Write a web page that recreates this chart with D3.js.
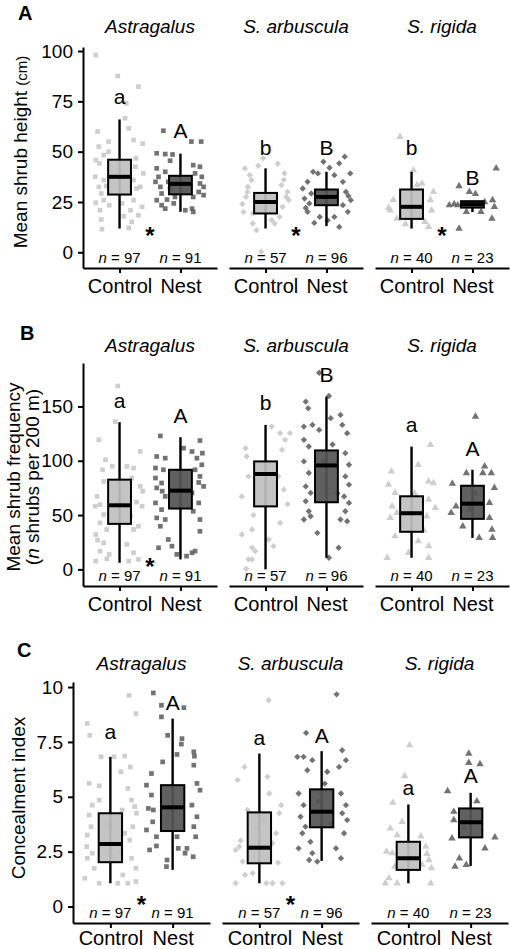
<!DOCTYPE html>
<html><head><meta charset="utf-8">
<script src="https://cdn.jsdelivr.net/npm/d3@7"></script>
<style>body{margin:0;background:#fff} text{font-family:"Liberation Sans",Arial,sans-serif;fill:#000}</style>
</head><body><svg id="c" width="510" height="949"></svg>
<script>
// ---------- DATA ----------
const species = ["Astragalus", "S. arbuscula", "S. rigida"];
const treatments = ["Control", "Nest"];
const sampleSizes = [[97, 91], [57, 96], [40, 23]];

const heightTicks = [0, 25, 50, 75, 100];
const freqTicks = [0, 50, 100, 150];
const concealTicks = [0, 2.5, 5, 7.5, 10];
const concealTickLabels = ["0", "2.5", "5", "7.5", "10"];

// box stats: [lower whisker, q1, median, q3, upper whisker], order: Ast C, Ast N, Sa C, Sa N, Sr C, Sr N
const heightBoxes = [[11.8,28.7,37.5,46,66],[20.1,28.8,34,38,49],[11.8,19.3,25,29.5,41.7],[13,23.4,27.5,31.2,40],[11.8,16.6,22.6,31.2,40],[20,22.2,23.9,25.4,25.4]];
const freqBoxes = [[6.1,41.9,59,82.6,135.5],[9.2,56,72.5,91.7,121.7],[0,58,87.8,99.4,133],[10.7,61.8,95.7,109.5,159],[10.7,34.6,51.7,67.3,113],[29,46.5,60.5,77,91.7]];
const concealBoxes = [[1.06,2.02,2.85,4.25,6.82],[1.67,3.44,4.52,5.53,8.56],[1.06,1.97,2.68,4.29,6.97],[2.08,3.61,4.32,5.34,7.08],[1.06,1.67,2.2,2.95,4.65],[1.85,3.15,3.84,4.47,5.18]];

// significance letters [letter, value at baseline]
const heightLetters = [[["a",73.7],["A",56.6]],[["b",48.3],["B",48.3]],[["b",48.3],["B",33.4]]];
const freqLetters = [[["a",148.3],["A",134.6]],[["b",146.8],["B",172.8]],[["a",126.9],["A",104]]];
const concealLetters = [[["a",7.65],["A",8.97]],[["a",7.35],["A",7.45]],[["a",5.08],["A",5.61]]];

// asterisk (value at centre, or null)
const heightStars = [11, 11, 11];
const freqStars = [7.6, null, null];
const concealStars = [0.3, 0.3, null];

// points: [jitter (category units), value]
const hAstC = [[-0.39,98],[-0.03,87.6],[0.31,82.3],[0.11,74],[-0.36,60],[0.15,61.6],[0.38,54],[-0.18,55],[-0.34,52.5],[0.23,55.8],[-0.26,48.3],[0.27,46.7],[-0.33,44.2],[0.39,39.2],[-0.4,37.5],[0.23,35.9],[-0.34,32.5],[0.28,31.7],[-0.3,29.2],[-0.39,24.6],[-0.26,25.9],[0.23,25.9],[-0.17,23.4],[0.04,24.3],[0.37,22.6],[0.18,20.9],[-0.3,16.3],[0.07,17.9],[-0.29,11.5],[0.2,15.1],[0.15,12.1],[-0.22,32.9],[-0.26,35.9],[0.34,32.5],[-0.39,45.8],[-0.18,49.9],[0.26,42.5],[0.09,66.6],[-0.32,20.9],[0.31,18.4]];
const hAstN = [[-0.28,60.4],[0.18,55],[-0.39,49.2],[-0.25,48.8],[-0.13,48.6],[-0.17,45.5],[0.21,43.3],[0.32,42.5],[-0.39,41.7],[-0.25,40],[-0.36,37.5],[0.35,37.5],[0.24,39.2],[0.32,34.2],[-0.33,32.5],[-0.2,35],[0.3,30],[-0.31,29.2],[-0.39,25.9],[-0.22,26.2],[0.38,28.4],[0.21,27.5],[-0.31,23.4],[-0.11,24.3],[0.19,21.7],[0.08,20.9],[0.21,20.1],[-0.25,21.7],[0.34,55],[-0.41,35],[-0.09,27.5],[-0.17,31.7],[0.38,32.5]];
const hSaC = [[-0.34,41.7],[-0.26,38.3],[-0.32,27.5],[-0.21,19.3],[-0.15,11],[-0.29,32.5],[-0.04,46.7],[0.31,39.2],[0.26,33.4],[0.34,27.5],[0.28,22.6],[0.23,17.6],[0.15,14.3],[-0.21,14.3],[-0.07,0.3],[-0.23,35.9],[-0.38,24],[0.36,30],[-0.12,43],[0.2,44],[-0.36,20],[0.1,16],[0.38,26],[-0.3,30],[0.3,36]];
const hSaN = [[0.3,47.5],[-0.14,39.2],[-0.31,35],[-0.39,31.7],[-0.36,26.7],[-0.28,24.3],[-0.31,20.1],[-0.11,17.6],[-0.2,14.6],[0.21,12.6],[0.35,20.1],[0.4,25.9],[0.32,30],[0.27,35],[0.39,39.2],[0.13,38.3],[0.21,44.2],[0.02,15.9],[-0.25,29.2],[0.13,17.6],[0.27,23.4],[-0.05,45],[0.05,42],[-0.22,40],[0.36,28],[-0.34,22]];
const hSrC = [[-0.19,57.4],[0.03,40.8],[0.17,34.2],[0.31,25.9],[0.33,20.9],[-0.35,20.9],[-0.24,16.8],[0.22,15.1],[0.28,12.6],[0.09,33.4],[-0.3,26],[0.36,30],[-0.1,14],[0.12,18],[-0.38,22]];
const hSrN = [[-0.22,32.9],[-0.38,23.4],[-0.24,23.4],[-0.1,20.1],[0.14,20.1],[-0.22,11.8],[0.39,41.7],[0.33,25.9],[0.36,22.6],[0.32,16.8],[0.05,29],[-0.3,24],[0.2,25],[-0.05,30]];

const fAstC = [[-0.03,168.8],[-0.07,136],[-0.34,119.3],[0.34,108.5],[-0.23,100.9],[0.23,93.3],[-0.28,91.7],[0.12,94.8],[0.2,84.1],[-0.26,81],[0.34,76.4],[-0.37,67.2],[-0.4,58.1],[-0.32,59.6],[0.37,58.1],[-0.26,50.5],[0.18,48.9],[0.31,39.7],[-0.32,42.8],[-0.21,36.7],[0.23,36.7],[-0.39,32.1],[-0.26,24.5],[0.12,22.9],[-0.32,16.8],[-0.17,13.8],[0.23,15.3],[-0.39,7.6],[0.15,7.6],[0.31,9.2],[-0.21,9.8],[-0.36,27],[0.38,72],[-0.12,95],[0.28,62]];
const fAstN = [[-0.33,122.9],[0.32,118.6],[0.05,111.6],[0.19,108.5],[-0.39,103.9],[-0.25,102.4],[0.27,102.4],[0.35,96.3],[-0.41,93.3],[-0.28,91.7],[0.24,91.7],[0.32,85.6],[-0.41,84.1],[-0.31,79.5],[0.38,76.4],[-0.39,75],[0.19,70.4],[-0.25,67.2],[-0.41,61.2],[0.3,61.2],[-0.31,55],[0.21,53.5],[-0.39,47.4],[-0.25,45.9],[0.32,45.9],[-0.33,39.7],[0.32,35.1],[-0.2,27.5],[-0.14,21.4],[-0.36,19.9],[-0.06,13.8],[0.19,15.3],[0.1,12.2],[0.24,16.8],[0.36,107],[-0.3,72],[0.3,80]];
const fSaC = [[-0.33,111.6],[-0.31,103.9],[-0.28,85.6],[-0.39,67.2],[-0.22,36.7],[-0.39,32.1],[-0.28,9.2],[-0.32,0.6],[-0.22,19.9],[0.24,125.4],[0.32,119.3],[0.4,125.4],[0.27,110.1],[0.21,85.6],[0.3,73.4],[0.24,42.8],[0.05,27.5],[0.13,21.4],[-0.17,16.8],[-0.22,9.2],[0.1,131.5],[-0.12,95],[0.36,60],[-0.2,50]];
const fSaN = [[-0.12,181],[0.04,159.6],[-0.34,154.4],[-0.3,148.3],[-0.37,131.5],[-0.23,133],[-0.12,128.4],[0.07,139.2],[0.23,142.2],[0.26,133],[0.34,125.4],[-0.37,119.3],[-0.29,113.1],[0.31,107],[0.37,96.3],[-0.37,99.4],[-0.29,88.7],[0.31,85.6],[0.37,78],[-0.34,76.4],[-0.26,70.4],[0.29,67.2],[0.37,61.2],[-0.34,62.7],[-0.29,53.5],[0.31,53.5],[-0.37,45.9],[-0.26,48.9],[0.23,45.9],[0.34,44.3],[-0.15,33.6],[0.2,19.9],[0.04,10.7],[0.1,115],[-0.05,100],[0.18,70]];
const fSrC = [[0.31,114.7],[-0.33,90.2],[0.11,96.3],[0.28,81],[0.36,79.5],[-0.38,78],[-0.27,70.4],[0.28,64.2],[-0.32,58.1],[-0.24,52],[0.39,56.6],[0.25,48.9],[-0.35,47.4],[-0.27,30.6],[0.11,26],[0.28,21.4],[-0.4,10.7],[0.28,10.7],[-0.05,15.3],[0.05,70],[-0.15,40],[0.2,36]];
const fSrN = [[0.05,140.6],[-0.33,78.9],[-0.1,88.7],[0.17,88.7],[0.31,88.7],[0.36,75],[0.28,61.2],[-0.35,52],[-0.16,39.7],[0.32,36.7],[0.33,29.1],[0.11,29.1],[0.28,47.4],[0.2,94.8],[-0.27,58.1],[-0.05,55],[0.05,70]];

const cAstC = [[-0.37,8.34],[-0.33,7.8],[0.3,9.62],[0.41,8.79],[-0.15,6.82],[0.06,6.82],[0.23,6.85],[0.32,6.36],[-0.34,5.61],[-0.18,5.5],[0.17,6.14],[0.28,5.38],[-0.29,4.62],[0.34,4.85],[0.39,4.55],[-0.34,4.17],[0.42,4.25],[-0.31,3.64],[0.36,3.64],[-0.37,3.26],[0.23,3.34],[-0.38,2.73],[0.31,3.03],[-0.37,2.2],[0.34,2.2],[-0.29,2.43],[0.41,1.74],[-0.41,1.29],[-0.26,1.74],[-0.18,1.06],[0.12,1.06],[0.28,1.06],[0.41,1.14],[0.2,1.44],[-0.18,4.85],[0.19,4.4],[0.15,2.43],[-0.05,3.8],[0.05,2.3]];
const cAstN = [[-0.31,9.73],[-0.18,9.17],[-0.18,8.64],[0.18,9.06],[-0.08,7.8],[0.15,7.65],[0.14,7.4],[0.34,7.05],[0.07,6.93],[0.35,6.85],[-0.16,6.59],[-0.34,6.06],[0.34,6.44],[-0.42,5.53],[-0.34,5.08],[0.39,5.61],[0.44,5.3],[0.31,4.62],[-0.39,4.47],[-0.31,4.4],[0.39,4.09],[-0.32,3.86],[-0.42,3.49],[0.34,3.64],[-0.26,3.18],[0.37,3.18],[-0.37,2.58],[-0.26,2.76],[0.09,2.65],[0.23,2.65],[0.33,2.27],[-0.09,2.12],[0.2,2.43],[-0.1,1.82],[0.07,3.18]];
const cSaC = [[-0.24,6.36],[-0.35,5.76],[-0.19,4.4],[-0.38,2.58],[-0.32,2.73],[-0.27,2.05],[-0.38,1.06],[-0.23,1.44],[0.15,9.4],[0.13,5.91],[0.35,4.62],[0.32,4.25],[0.16,5.15],[0.27,3.34],[0.21,2.88],[0.13,2.2],[0.11,1.06],[0.21,1.06],[0.37,1.06],[-0.11,1.52],[-0.05,3.6],[0.05,4.0],[-0.3,3.0],[0.3,2.0]];
const cSaN = [[0.24,9.67],[-0.25,7.91],[-0.39,6.82],[-0.29,6.82],[-0.15,6.67],[0.33,7.12],[0.39,6.67],[0.28,6.36],[-0.23,6.21],[0.09,6.14],[-0.37,5.15],[-0.29,4.62],[0.31,5.15],[0.39,4.62],[0.33,4.25],[0.41,3.94],[-0.34,4.09],[-0.26,3.64],[-0.31,3.34],[0.36,3.34],[-0.18,2.95],[-0.37,2.65],[0.23,2.65],[0.31,2.2],[-0.2,2.12],[-0.07,2.05],[-0.15,2.43],[0.05,5.6],[-0.05,4.8],[0.15,3.8]];
const cSrC = [[0.02,7.35],[-0.06,5.94],[-0.25,4.73],[-0.1,3.86],[-0.29,3.56],[-0.18,3.26],[0.28,2.73],[0.33,2.12],[0.22,1.9],[0.37,1.75],[-0.31,1.29],[-0.37,1.06],[-0.18,1.06],[0.36,1.06],[-0.22,1.82],[-0.26,2.43],[0.2,3.2],[-0.35,2.5],[0.3,2.4]];
const cSrN = [[-0.03,6.97],[-0.03,6.55],[0.15,6.49],[-0.37,5.26],[-0.27,4.32],[-0.27,3.94],[-0.3,3.11],[0.39,3.15],[0.23,2.65],[-0.18,2.2],[-0.25,1.82],[-0.07,1.9],[0.1,4.8],[-0.1,3.6]];

// ---------- DRAW ----------
const svg = d3.select("#c");
const FONT = "'Liberation Sans',Arial,sans-serif";
const ptFill = ["#c6c6c6", "#646464"];
const boxFill = ["#c0c0c0", "#545454"];
const shapes = [
  d3.symbol().type(d3.symbolSquare).size(22)(),
  d3.symbol().type(d3.symbolSquare).size(20)(),  // rotated -> diamond
  d3.symbol().type(d3.symbolTriangle).size(24)()
];
const shapeRot = [0, 45, 0];

const panels = [
  {tag:"A", boxes:heightBoxes, pts:[[hAstC,hAstN],[hSaC,hSaN],[hSrC,hSrN]], letters:heightLetters, stars:heightStars,
   ticks:heightTicks, tickLabels:heightTicks.map(String), domain:[-7.8,102], top:47, bottom:268, left:83, fw:134,
   tagXY:[18,19.5], stripY:33, xPad:6},
  {tag:"B", boxes:freqBoxes, pts:[[fAstC,fAstN],[fSaC,fSaN],[fSrC,fSrN]], letters:freqLetters, stars:freqStars,
   ticks:freqTicks, tickLabels:freqTicks.map(String), domain:[-15.3,190], top:363, bottom:586, left:83, fw:134,
   tagXY:[20,340], stripY:351.5, xPad:6},
  {tag:"C", boxes:concealBoxes, pts:[[cAstC,cAstN],[cSaC,cSaN],[cSrC,cSrN]], letters:concealLetters, stars:concealStars,
   ticks:concealTicks, tickLabels:concealTickLabels, domain:[-0.75,10.23], top:682, bottom:923, left:73, fw:137,
   tagXY:[17,657], stripY:670, xPad:3}
];
const GAP = 12;

panels.forEach((p) => {
  const y = d3.scaleLinear().domain(p.domain).range([p.bottom, p.top]);
  const g = svg.append("g");
  // panel tag
  g.append("text").attr("x", p.tagXY[0]).attr("y", p.tagXY[1]).attr("font-size", 20).attr("font-weight", "bold").text(p.tag);

  species.forEach((sp, si) => {
    const x0 = p.left + si * (p.fw + GAP);
    const x = d3.scaleLinear().domain([0.4, 2.6]).range([x0, x0 + p.fw]);
    const fg = g.append("g");
    // strip title
    fg.append("text").attr("x", x(1.5)).attr("y", p.stripY).attr("text-anchor", "middle")
      .attr("font-size", 19).attr("font-style", "italic").text(sp);
    treatments.forEach((tr, ti) => {
      const cx = ti + 1;
      // points
      fg.append("g").selectAll("path").data(p.pts[si][ti]).join("path")
        .attr("d", shapes[si])
        .attr("transform", (d) => `translate(${x(cx + d[0])},${y(d[1])}) rotate(${shapeRot[si]})`)
        .attr("fill", ptFill[ti]).attr("opacity", ti === 0 ? 0.85 : 0.9);
      // box
      const b = p.boxes[si * 2 + ti];
      const hw = 0.1875;
      fg.append("line").attr("x1", x(cx)).attr("x2", x(cx)).attr("y1", y(b[0])).attr("y2", y(b[4]))
        .attr("stroke", "#000").attr("stroke-width", 2.4);
      fg.append("rect").attr("x", x(cx - hw)).attr("width", x(cx + hw) - x(cx - hw))
        .attr("y", y(b[3])).attr("height", y(b[1]) - y(b[3]))
        .attr("fill", boxFill[ti]).attr("fill-opacity", 0.93).attr("stroke", "#000").attr("stroke-width", 2);
      fg.append("line").attr("x1", x(cx - hw)).attr("x2", x(cx + hw)).attr("y1", y(b[2])).attr("y2", y(b[2]))
        .attr("stroke", "#000").attr("stroke-width", 4);
      // letters
      const L = p.letters[si][ti];
      fg.append("text").attr("x", x(cx)).attr("y", y(L[1])).attr("text-anchor", "middle")
        .attr("font-size", 21).text(L[0]);
      // n labels
      const t = fg.append("text").attr("x", x(cx)).attr("y", p.bottom - 5).attr("text-anchor", "middle").attr("font-size", 15);
      t.append("tspan").attr("font-style", "italic").text("n");
      t.append("tspan").text(" = " + sampleSizes[si][ti]);
    });
    if (p.stars[si] !== null) {
      fg.append("text").attr("x", x(1.5)).attr("y", y(p.stars[si]) + 13.5).attr("text-anchor", "middle")
        .attr("font-size", 24).attr("font-weight", "bold").text("*");
    }
    // x axis
    const ax = fg.append("g").attr("transform", `translate(0,${p.bottom})`)
      .call(d3.axisBottom(x).tickValues([1, 2]).tickFormat((d) => treatments[d - 1]).tickSize(5).tickPadding(p.xPad).tickSizeOuter(0));
    ax.select(".domain").attr("stroke-width", 2);
    ax.selectAll(".tick line").attr("stroke-width", 2);
    ax.selectAll(".tick text").attr("font-size", 20).attr("font-family", FONT).attr("fill", "#000");
  });
  // y axis
  const ay = g.append("g").attr("transform", `translate(${p.left},0)`)
    .call(d3.axisLeft(y).tickValues(p.ticks).tickFormat((d, i) => p.tickLabels[i]).tickSize(5).tickPadding(5).tickSizeOuter(0));
  ay.select(".domain").attr("stroke-width", 2);
  ay.selectAll(".tick line").attr("stroke-width", 2);
  ay.selectAll(".tick text").attr("font-size", 19).attr("font-family", FONT).attr("fill", "#000");
});

// y titles
const t1 = svg.append("text").attr("transform", "translate(27,152) rotate(-90)").attr("text-anchor", "middle").attr("font-size", 19);
t1.append("tspan").text("Mean shrub height ");
t1.append("tspan").attr("font-size", 15).text("(cm)");
svg.append("text").attr("transform", "translate(19.5,477) rotate(-90)").attr("text-anchor", "middle").attr("font-size", 19).text("Mean shrub frequency");
const t2 = svg.append("text").attr("transform", "translate(38.5,477) rotate(-90)").attr("text-anchor", "middle").attr("font-size", 19);
t2.append("tspan").text("(");
t2.append("tspan").attr("font-style", "italic").text("n");
t2.append("tspan").text(" shrubs per 200 m)");
svg.append("text").attr("transform", "translate(25,798) rotate(-90)").attr("text-anchor", "middle").attr("font-size", 19).text("Concealment index");
</script></body></html>
